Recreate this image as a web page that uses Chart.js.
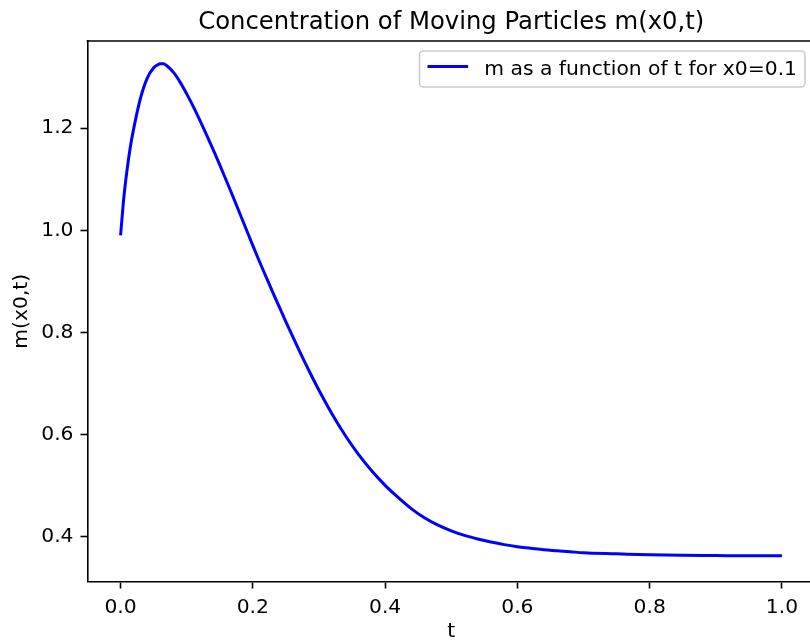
<!DOCTYPE html>
<html>
<head>
<meta charset="utf-8">
<script src="https://cdn.jsdelivr.net/npm/chart.js@4.4.1/dist/chart.umd.min.js"></script>
<style>
  html, body { margin: 0; padding: 0; width: 810px; height: 644px; overflow: hidden; background: #fff; }
  #wrap { width: 830px; height: 644px; }
</style>
</head>
<body>
<div id="wrap"><canvas id="conc" width="830" height="644"></canvas></div>
<script>
// 讀自圖片的數據
const tValues = [0, 0.005, 0.01, 0.015, 0.02, 0.03, 0.04, 0.05, 0.055, 0.06, 0.065, 0.07, 0.08, 0.09,
  0.10, 0.11, 0.12, 0.13, 0.14, 0.15, 0.16, 0.17, 0.18, 0.19, 0.20, 0.21, 0.22, 0.23,
  0.24, 0.25, 0.26, 0.27, 0.28, 0.29, 0.30, 0.32, 0.34, 0.36, 0.38, 0.40, 0.42, 0.44,
  0.46, 0.48, 0.50, 0.52, 0.54, 0.56, 0.58, 0.60, 0.62, 0.64, 0.66, 0.68, 0.70,
  0.75, 0.80, 0.85, 0.90, 0.95, 1.00];
const mValues = [0.99, 1.065, 1.12, 1.165, 1.20, 1.258, 1.297, 1.318, 1.323, 1.326, 1.326, 1.322, 1.309, 1.290,
  1.267, 1.242, 1.215, 1.187, 1.158, 1.128, 1.097, 1.066, 1.034, 1.002, 0.970, 0.939, 0.909, 0.879,
  0.850, 0.821, 0.793, 0.765, 0.738, 0.712, 0.687, 0.640, 0.598, 0.561, 0.529, 0.501, 0.477, 0.455,
  0.437, 0.423, 0.412, 0.403, 0.396, 0.390, 0.385, 0.381, 0.378, 0.375, 0.373, 0.371, 0.369,
  0.367, 0.365, 0.364, 0.3635, 0.363, 0.363];
const xTicks = [0.0, 0.2, 0.4, 0.6, 0.8, 1.0];
const yTicks = [0.4, 0.6, 0.8, 1.0, 1.2];

const chartTitle = 'Concentration of Moving Particles m(x0,t)';
const legendLabel = 'm as a function of t for x0=0.1';
const FONT = '"DejaVu Sans", sans-serif';

// 標題、上邊框、圖例 (matplotlib 風格)
const mplDecor = {
  id: 'mplDecor',
  afterDraw(chart) {
    const { ctx, chartArea: a } = chart;
    ctx.save();
    // 上邊框
    ctx.strokeStyle = '#000';
    ctx.lineWidth = 1.6;
    ctx.beginPath();
    ctx.moveTo(a.left - 0.8, a.top);
    ctx.lineTo(a.right, a.top);
    ctx.stroke();

    // 標題
    ctx.fillStyle = '#000';
    ctx.font = '24.3px ' + FONT;
    ctx.textAlign = 'center';
    ctx.textBaseline = 'alphabetic';
    ctx.fillText(chartTitle, (a.left + a.right) / 2, a.top - 12.2);

    // 圖例
    ctx.font = '20.3px ' + FONT;
    const tw = ctx.measureText(legendLabel).width;
    const boxR = a.right - 10, boxT = a.top + 10;
    const boxW = 8 + 40.6 + 16.2 + tw + 8, boxH = 36;
    const boxL = boxR - boxW;
    ctx.beginPath();
    ctx.roundRect(boxL, boxT, boxW, boxH, 4);
    ctx.fillStyle = 'rgba(255,255,255,0.8)';
    ctx.fill();
    ctx.strokeStyle = '#cccccc';
    ctx.lineWidth = 1.6;
    ctx.stroke();
    ctx.strokeStyle = '#0000ff';
    ctx.lineWidth = 3;
    ctx.beginPath();
    ctx.moveTo(boxL + 8, boxT + 15.5);
    ctx.lineTo(boxL + 48.6, boxT + 15.5);
    ctx.stroke();
    ctx.fillStyle = '#000';
    ctx.textAlign = 'left';
    ctx.fillText(legendLabel, boxL + 8 + 40.6 + 16.2, boxT + 23.5);
    ctx.restore();
  }
};

const ctx = document.getElementById('conc').getContext('2d');
const concChart = new Chart(ctx, {
  type: 'line',
  data: {
    datasets: [{
      label: legendLabel,
      data: tValues.map((t, i) => ({ x: t, y: mValues[i] })),
      borderColor: '#0000ff',
      borderWidth: 3,
      pointRadius: 0,
      cubicInterpolationMode: 'monotone',
      fill: false
    }]
  },
  options: {
    responsive: false,
    animation: false,
    layout: { padding: { top: 41, right: 15, left: 0, bottom: 0 } },
    plugins: { legend: { display: false }, title: { display: false }, tooltip: { enabled: false } },
    scales: {
      x: {
        type: 'linear',
        min: -0.05,
        max: 1.05,
        afterBuildTicks: (s) => { s.ticks = xTicks.map(v => ({ value: v })); },
        afterFit: (s) => { s.height = 62.5; },
        grid: { drawOnChartArea: false, drawTicks: true, tickLength: 7, tickWidth: 1.6, tickColor: '#000' },
        border: { display: true, color: '#000', width: 1.6 },
        ticks: { color: '#000', padding: 7, maxRotation: 0, font: { family: FONT, size: 20.3 },
          callback: (v) => Number(v).toFixed(1) },
        title: { display: true, text: 't', color: '#000', padding: { top: 0, bottom: 0 },
          font: { family: FONT, size: 20.3 } }
      },
      y: {
        type: 'linear',
        min: 0.3128,
        max: 1.3705,
        afterBuildTicks: (s) => { s.ticks = yTicks.map(v => ({ value: v })); },
        afterFit: (s) => { s.width = 87.5; },
        grid: { drawOnChartArea: false, drawTicks: true, tickLength: 7, tickWidth: 1.6, tickColor: '#000' },
        border: { display: true, color: '#000', width: 1.6 },
        ticks: { color: '#000', padding: 7, font: { family: FONT, size: 20.3 },
          callback: (v) => Number(v).toFixed(1) },
        title: { display: true, text: 'm(x0,t)', color: '#000', padding: { top: 10, bottom: 0 },
          font: { family: FONT, size: 20.3 } }
      }
    }
  },
  plugins: [mplDecor]
});
</script>
</body>
</html>
